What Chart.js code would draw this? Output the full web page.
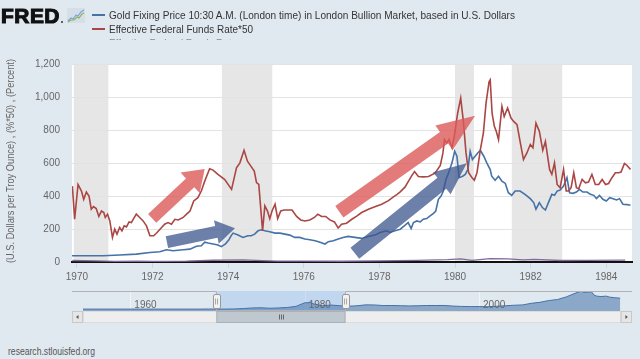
<!DOCTYPE html>
<html><head><meta charset="utf-8">
<script src="https://cdn.jsdelivr.net/npm/chart.js@4.4.1/dist/chart.umd.min.js"></script>
<style>
html,body{margin:0;padding:0;}
body{width:640px;height:359px;background:#e1e9f0;position:relative;overflow:hidden;font-family:"Liberation Sans",Arial,sans-serif;}
canvas{position:absolute;left:0;}
#main{top:0;}
#nav{top:285px;}
.fit{position:absolute;white-space:nowrap;transform-origin:0 50%;display:inline-block;line-height:12px;}
.dash{position:absolute;width:13px;height:2px;}
#clip{position:absolute;left:0;top:0;width:640px;height:40px;overflow:hidden;}
#logo{left:1px;top:4px;font-weight:bold;font-size:21px;line-height:24px;color:#111;-webkit-text-stroke:1.1px #111;letter-spacing:0.5px;}
#reg{position:absolute;left:61px;top:21px;width:2px;height:2px;background:#333;border-radius:1px;}
#icon{position:absolute;left:67px;top:8px;}
.leg{left:109px;font-size:10.5px;color:#333;}
#foot{left:8px;top:346px;font-size:10px;color:#555;}
</style>
</head><body>
<canvas id="main" width="640" height="290"></canvas>
<canvas id="nav" width="640" height="50"></canvas>
<div id="clip">
  <span class="fit" id="logo" data-w="59">FRED</span>
  <div id="reg"></div>
  <svg id="icon" width="18" height="15" viewBox="0 0 18 15">
    <rect x="0" y="0" width="18" height="15" fill="#d6dee7"/>
    <polyline points="1,13 4,10 6,11 9,7 11,8 14,4 17,2" fill="none" stroke="#7aa7d6" stroke-width="1.2"/>
    <polyline points="1,14 4,12 7,12 10,9 12,10 15,6 17,5" fill="none" stroke="#8db35e" stroke-width="1.2"/>
  </svg>
  <div class="dash" style="left:92px;top:14px;background:#4572a7"></div>
  <span class="fit leg" style="top:9px" data-w="406">Gold Fixing Price 10:30 A.M. (London time) in London Bullion Market, based in U.S. Dollars</span>
  <div class="dash" style="left:92px;top:28px;background:#aa4643"></div>
  <span class="fit leg" style="top:23px" data-w="144">Effective Federal Funds Rate*50</span>
  <span class="fit leg" style="top:37px;color:#888" data-w="128">Effective Federal Funds Rate</span>
</div>
<span class="fit" id="foot" data-w="87">research.stlouisfed.org</span>
<script>
// ---------- data ----------
const xTicks = [1970, 1972, 1974, 1976, 1978, 1980, 1982, 1984];
const yTicksStep = 200;
const recessions = [[1969.917, 1970.833], [1973.833, 1975.167], [1980.0, 1980.5], [1981.5, 1982.833]];

const fedYears = [1969.88,1969.94,1970.03,1970.12,1970.18,1970.25,1970.32,1970.38,1970.44,1970.51,1970.58,1970.65,1970.71,1970.75,1970.81,1970.87,1970.94,1971.00,1971.06,1971.13,1971.19,1971.25,1971.31,1971.38,1971.44,1971.50,1971.57,1971.66,1971.75,1971.84,1971.93,1972.03,1972.12,1972.24,1972.32,1972.41,1972.50,1972.59,1972.68,1972.81,1972.90,1972.99,1973.09,1973.20,1973.29,1973.38,1973.51,1973.60,1973.73,1973.91,1974.09,1974.22,1974.31,1974.42,1974.51,1974.60,1974.69,1974.75,1974.81,1974.91,1974.97,1975.04,1975.10,1975.16,1975.24,1975.31,1975.39,1975.48,1975.59,1975.69,1975.81,1975.92,1976.03,1976.16,1976.28,1976.37,1976.47,1976.58,1976.69,1976.81,1976.91,1977.00,1977.13,1977.27,1977.40,1977.53,1977.71,1977.88,1978.06,1978.24,1978.37,1978.46,1978.55,1978.68,1978.77,1978.86,1978.93,1979.03,1979.16,1979.30,1979.47,1979.61,1979.68,1979.72,1979.78,1979.84,1979.92,1979.98,1980.07,1980.15,1980.22,1980.29,1980.36,1980.45,1980.51,1980.58,1980.67,1980.75,1980.82,1980.90,1980.93,1980.98,1981.04,1981.09,1981.15,1981.24,1981.30,1981.39,1981.48,1981.55,1981.64,1981.72,1981.81,1981.90,1981.99,1982.06,1982.14,1982.23,1982.32,1982.39,1982.50,1982.56,1982.63,1982.70,1982.78,1982.87,1982.94,1983.00,1983.07,1983.14,1983.21,1983.27,1983.36,1983.45,1983.53,1983.62,1983.71,1983.80,1983.89,1983.98,1984.06,1984.15,1984.24,1984.33,1984.39,1984.48,1984.55,1984.64];
const fedTimes50 = [460,259,470,430,380,424,400,320,336,324,276,309,300,270,290,249,149,199,169,209,189,219,213,243,239,263,290,270,249,219,159,159,179,209,229,239,229,259,255,270,290,309,370,390,430,490,565,557,531,500,440,571,601,677,611,581,551,481,470,189,340,309,263,309,350,263,309,315,315,315,276,255,249,255,270,290,276,276,255,243,206,229,235,259,278,300,320,335,350,372,395,408,425,455,490,525,548,518,516,518,538,585,661,742,722,742,692,762,903,993,852,661,541,511,496,541,681,782,963,1093,1104,900,822,792,742,943,882,933,872,852,832,731,621,661,712,692,842,792,677,731,561,531,601,470,450,561,430,430,450,541,450,444,500,480,484,531,470,470,500,470,476,511,541,541,545,597,585,561];

const goldYears = [1969.85,1970.69,1971.13,1971.57,1971.93,1972.19,1972.37,1972.54,1972.81,1972.99,1973.16,1973.29,1973.38,1973.47,1973.60,1973.73,1973.82,1973.93,1974.02,1974.08,1974.13,1974.26,1974.39,1974.52,1974.61,1974.70,1974.79,1974.88,1974.97,1975.10,1975.24,1975.37,1975.50,1975.63,1975.76,1975.89,1976.03,1976.16,1976.30,1976.43,1976.56,1976.65,1976.78,1976.91,1977.04,1977.17,1977.35,1977.53,1977.70,1977.88,1978.02,1978.19,1978.28,1978.41,1978.55,1978.68,1978.76,1978.84,1978.90,1978.99,1979.08,1979.16,1979.25,1979.34,1979.43,1979.49,1979.56,1979.63,1979.69,1979.76,1979.83,1979.92,1979.99,1980.05,1980.11,1980.20,1980.27,1980.34,1980.40,1980.46,1980.53,1980.60,1980.67,1980.76,1980.84,1980.93,1980.97,1981.06,1981.15,1981.24,1981.33,1981.41,1981.50,1981.59,1981.72,1981.85,1981.99,1982.08,1982.14,1982.23,1982.31,1982.39,1982.47,1982.56,1982.63,1982.70,1982.78,1982.87,1982.96,1983.03,1983.12,1983.21,1983.29,1983.38,1983.49,1983.58,1983.67,1983.74,1983.82,1983.91,1984.00,1984.09,1984.18,1984.27,1984.35,1984.44,1984.55,1984.64];
const goldPrice = [38,38,42,48,58,62,74,68,74,78,95,98,120,115,109,103,93,110,135,160,175,163,149,159,159,169,189,195,189,183,175,175,169,163,149,149,139,135,129,119,109,123,129,139,149,155,149,143,155,163,179,189,179,189,199,223,239,203,239,249,243,259,263,279,295,309,380,400,430,500,541,601,671,641,511,520,531,561,671,621,641,661,677,641,601,560,520,496,520,490,476,420,404,430,430,410,384,360,320,360,330,315,360,410,404,430,436,460,511,420,416,424,440,424,424,410,404,384,404,380,370,390,384,376,384,350,348,344];

const fedYearsPct = [1969.88,1970.5,1971.0,1971.6,1972.0,1972.9,1973.6,1974.4,1974.9,1975.3,1976.0,1977.0,1978.0,1979.0,1979.8,1980.15,1980.45,1980.93,1981.4,1981.8,1982.1,1982.8,1983.5,1984.5];
const fedPercent = [9,6.5,4,5.5,3.3,5.3,10.7,13,8.5,5.3,4.9,4.6,6.7,10,14,19,9.5,21,18.5,13,16,9,9.5,11.5];

const navYears = [1954.57,1960,1967.9,1968.3,1969,1970,1971,1972,1973,1974,1975,1976,1977,1978,1979,1980,1980.7,1981,1982,1983,1984,1985,1986,1987,1988,1989,1990,1991,1992,1993,1994,1995,1996,1997,1998,1999,2000,2001,2002,2003,2004,2005,2006,2007,2008,2009,2010,2011,2011.7,2012,2012.9,2013.2,2013.5,2014,2014.6,2015,2015.5,2016.2];
const navGold = [35,35,35,38,42,35,40,50,90,150,165,120,150,195,300,650,670,550,350,430,370,320,360,450,440,380,385,365,345,360,385,385,390,330,295,280,280,270,310,360,410,445,600,700,870,970,1220,1570,1780,1670,1720,1400,1300,1260,1300,1200,1150,1100];
const navLabelYears = [1960, 1980, 2000];

// annotation arrows (data coordinates)
const arrows = [
  {from:[1971.99,265], to:[1973.38,563], color:'rgba(220,90,90,0.8)', sw:12, hw:28, hl:20},
  {from:[1972.38,121], to:[1974.18,205], color:'rgba(60,85,140,0.75)', sw:12, hw:24, hl:19},
  {from:[1976.94,305], to:[1980.53,886], color:'rgba(220,90,90,0.8)', sw:14, hw:30, hl:38},
  {from:[1977.35,53], to:[1980.31,599], color:'rgba(60,85,140,0.75)', sw:14, hw:28, hl:32}
];
const yTitle = '(U.S. Dollars per Troy Ounce) , (%*50) , (Percent)';
const X_MIN = 1969.87, X_MAX = 1984.68;

// ---------- helpers ----------
const FONT = '"Liberation Sans", Arial, sans-serif';
const zip = (xs, ys) => xs.map((x, i) => ({x, y: ys[i]}));

function drawArrow(ctx, x0, y0, x1, y1, sw, hw, hl, color) {
  const dx = x1 - x0, dy = y1 - y0, L = Math.hypot(dx, dy);
  const ux = dx / L, uy = dy / L, px = -uy, py = ux;
  const bx = x1 - ux * hl, by = y1 - uy * hl;
  ctx.beginPath();
  ctx.moveTo(x0 + px * sw / 2, y0 + py * sw / 2);
  ctx.lineTo(bx + px * sw / 2, by + py * sw / 2);
  ctx.lineTo(bx + px * hw / 2, by + py * hw / 2);
  ctx.lineTo(x1, y1);
  ctx.lineTo(bx - px * hw / 2, by - py * hw / 2);
  ctx.lineTo(bx - px * sw / 2, by - py * sw / 2);
  ctx.lineTo(x0 - px * sw / 2, y0 - py * sw / 2);
  ctx.closePath();
  ctx.fillStyle = color;
  ctx.fill();
}

const mainPlugin = {
  id: 'mainDeco',
  beforeDraw(chart) {
    const {ctx, chartArea: a, scales: {x}} = chart;
    ctx.save();
    ctx.fillStyle = '#ffffff';
    ctx.fillRect(a.left, a.top, a.right - a.left, a.bottom - a.top);
    ctx.fillStyle = '#e6e6e6';
    recessions.forEach(([s, e]) => {
      const x0 = Math.max(a.left, x.getPixelForValue(s));
      const x1 = Math.min(a.right, x.getPixelForValue(e));
      ctx.fillRect(x0, a.top, x1 - x0, a.bottom - a.top);
    });
    ctx.restore();
  },
  afterDatasetsDraw(chart) {
    const {ctx, chartArea: a, scales: {x, y}} = chart;
    ctx.save();
    ctx.beginPath(); ctx.rect(a.left, a.top, a.right - a.left, a.bottom - a.top); ctx.clip();
    arrows.forEach(ar => {
      drawArrow(ctx, x.getPixelForValue(ar.from[0]), y.getPixelForValue(ar.from[1]),
        x.getPixelForValue(ar.to[0]), y.getPixelForValue(ar.to[1]), ar.sw, ar.hw, ar.hl, ar.color);
    });
    ctx.restore();
  },
  afterDraw(chart) {
    const {ctx, chartArea: a} = chart;
    ctx.save();
    ctx.translate(11, (a.top + a.bottom) / 2 - 2);
    ctx.rotate(-Math.PI / 2);
    ctx.font = '10px ' + FONT;
    const w = ctx.measureText(yTitle).width;
    ctx.scale(204 / w, 1);
    ctx.textAlign = 'center';
    ctx.textBaseline = 'middle';
    ctx.fillStyle = '#666';
    ctx.fillText(yTitle, 0, 0);
    ctx.restore();
  }
};

new Chart(document.getElementById('main'), {
  type: 'line',
  data: {
    datasets: [
      {label: 'Effective Federal Funds Rate*50', data: zip(fedYears, fedTimes50), borderColor: '#aa4643', borderWidth: 1.6, pointRadius: 0, tension: 0},
      {label: 'Gold Fixing Price 10:30 A.M. (London time) in London Bullion Market, based in U.S. Dollars', data: zip(goldYears, goldPrice), borderColor: '#4572a7', borderWidth: 1.6, pointRadius: 0, tension: 0},
      {label: 'Effective Federal Funds Rate', data: zip(fedYearsPct, fedPercent), borderColor: '#80699b', borderWidth: 1.3, pointRadius: 0, tension: 0}
    ]
  },
  options: {
    responsive: false, animation: false, devicePixelRatio: 1, locale: 'en-US',
    layout: {padding: {left: 0, top: 64, right: 8, bottom: 3}},
    plugins: {legend: {display: false}, tooltip: {enabled: false}},
    scales: {
      x: {
        type: 'linear', min: X_MIN, max: X_MAX,
        afterBuildTicks: s => { s.ticks = xTicks.map(v => ({value: v})); },
        afterFit: s => { s.height = 25; },
        ticks: {callback: v => String(v), color: '#666', font: {size: 10, family: FONT}, maxRotation: 0, autoSkip: false, padding: 3},
        grid: {drawOnChartArea: false, drawTicks: true, tickLength: 6, color: '#ccd6eb'},
        border: {color: '#111', width: 2}
      },
      y: {
        min: 0, max: 1200,
        afterFit: s => { s.width = 72; },
        ticks: {stepSize: yTicksStep, padding: 12, color: '#666', font: {size: 10, family: FONT}},
        grid: {color: '#e3e3e3', drawTicks: false},
        border: {display: false}
      }
    }
  },
  plugins: [mainPlugin]
});

// ---------- navigator ----------
const navPlugin = {
  id: 'navDeco',
  beforeDatasetsDraw(chart) {
    const {ctx, chartArea: a, scales: {x}} = chart;
    const s0 = x.getPixelForValue(X_MIN), s1 = x.getPixelForValue(X_MAX);
    ctx.save();
    ctx.strokeStyle = 'rgba(255,255,255,0.55)'; ctx.lineWidth = 1;
    navLabelYears.forEach(v => {
      const px = Math.round(x.getPixelForValue(v)) + 0.5;
      ctx.beginPath(); ctx.moveTo(px, a.top); ctx.lineTo(px, a.bottom); ctx.stroke();
    });
    ctx.fillStyle = 'rgba(128,176,240,0.32)';
    ctx.fillRect(s0, a.top, s1 - s0, a.bottom - a.top);
    ctx.restore();
  },
  afterDatasetsDraw(chart) {
    const {ctx, chartArea: a, scales: {x}} = chart;
    const s0 = x.getPixelForValue(X_MIN), s1 = x.getPixelForValue(X_MAX);
    const L = 72, R = 632;
    ctx.save();
    ctx.font = '10px ' + FONT; ctx.fillStyle = '#666'; ctx.textBaseline = 'middle'; ctx.textAlign = 'left';
    navLabelYears.forEach(v => ctx.fillText(String(v), x.getPixelForValue(v) + 4, a.top + 14));
    ctx.strokeStyle = '#b2b1b6'; ctx.lineWidth = 1;
    ctx.beginPath();
    ctx.moveTo(L, a.top + 0.5); ctx.lineTo(s0, a.top + 0.5); ctx.lineTo(s0, a.bottom - 0.5);
    ctx.lineTo(s1, a.bottom - 0.5); ctx.lineTo(s1, a.top + 0.5); ctx.lineTo(R, a.top + 0.5);
    ctx.stroke();
    const sy = a.bottom, sh = 12;
    ctx.fillStyle = '#eeeeee'; ctx.fillRect(83, sy, 537.7, sh);
    ctx.strokeStyle = '#dcdcdc'; ctx.strokeRect(83.5, sy + 0.5, 537, sh - 1);
    [[L, 11], [620.7, R - 620.7]].forEach(([bx, bw], i) => {
      ctx.fillStyle = '#e6e6e6'; ctx.fillRect(bx, sy, bw, sh);
      ctx.strokeStyle = '#c8c8c8'; ctx.strokeRect(bx + 0.5, sy + 0.5, bw - 1, sh - 1);
      ctx.fillStyle = '#555';
      const cx = bx + bw / 2, cy = sy + sh / 2;
      ctx.beginPath();
      if (i === 0) { ctx.moveTo(cx + 1, cy - 2); ctx.lineTo(cx - 1.5, cy); ctx.lineTo(cx + 1, cy + 2); }
      else { ctx.moveTo(cx - 1, cy - 2); ctx.lineTo(cx + 1.5, cy); ctx.lineTo(cx - 1, cy + 2); }
      ctx.closePath(); ctx.fill();
    });
    ctx.fillStyle = '#bfc7cf'; ctx.fillRect(s0, sy, s1 - s0, sh);
    ctx.strokeStyle = '#a9b1b9'; ctx.strokeRect(s0 + 0.5, sy + 0.5, s1 - s0 - 1, sh - 1);
    ctx.strokeStyle = '#666';
    const gx = (s0 + s1) / 2;
    [-2, 0, 2].forEach(d => { ctx.beginPath(); ctx.moveTo(Math.round(gx + d) + 0.5, sy + 3.5); ctx.lineTo(Math.round(gx + d) + 0.5, sy + 8.5); ctx.stroke(); });
    [s0, s1].forEach(hx => {
      ctx.fillStyle = '#f2f2f2'; ctx.strokeStyle = '#999';
      const rx = Math.round(hx - 3.5) + 0.5, ry = a.top + 3.5;
      ctx.beginPath(); ctx.roundRect(rx, ry, 7, 14, 1.5); ctx.fill(); ctx.stroke();
      ctx.strokeStyle = '#aaa';
      [-1, 1].forEach(d => { ctx.beginPath(); ctx.moveTo(Math.round(hx + d) + 0.5, ry + 4); ctx.lineTo(Math.round(hx + d) + 0.5, ry + 10); ctx.stroke(); });
    });
    ctx.restore();
  }
};

new Chart(document.getElementById('nav'), {
  type: 'line',
  data: {datasets: [{data: zip(navYears, navGold), borderColor: '#4572a7', borderWidth: 1, backgroundColor: 'rgba(69,114,167,0.55)', fill: 'start', pointRadius: 0, tension: 0}]},
  options: {
    responsive: false, animation: false, devicePixelRatio: 1,
    layout: {padding: {left: 83, right: 19.3, top: 6, bottom: 24}},
    plugins: {legend: {display: false}, tooltip: {enabled: false}},
    scales: {
      x: {type: 'linear', display: false, min: 1954.57, max: 2016.25},
      y: {display: false, min: -150, max: 1800}
    }
  },
  plugins: [navPlugin]
});

function fitAll() {
  document.querySelectorAll('.fit').forEach(el => {
    el.style.transform = 'none';
    const w = el.getBoundingClientRect().width;
    const t = parseFloat(el.dataset.w);
    if (w > 0 && t) el.style.transform = 'scaleX(' + (t / w) + ')';
  });
}
fitAll();
if (document.fonts && document.fonts.ready) document.fonts.ready.then(fitAll);
</script>
</body></html>
